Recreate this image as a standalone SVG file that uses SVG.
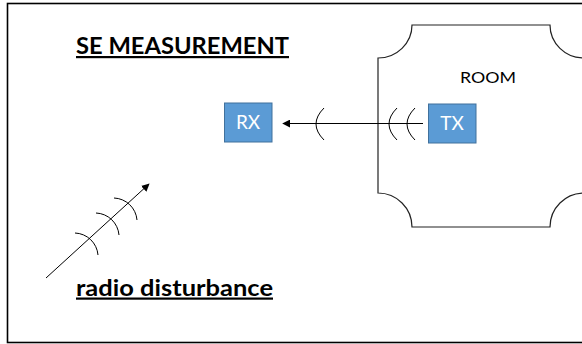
<svg xmlns="http://www.w3.org/2000/svg" width="582" height="344" viewBox="0 0 582 344">
<defs>
<marker id="ah" viewBox="0 0 10 10" refX="9" refY="5" markerWidth="8" markerHeight="8" markerUnits="userSpaceOnUse" orient="auto"><path d="M0 0L10 5L0 10Z" fill="#000"/></marker>
</defs>
<style>
.t{font-family:"Lato","Open Sans",sans-serif;fill:#000}
.h{font-weight:700;font-size:22px;text-decoration:underline}
.b{fill:#5b9bd5;stroke:#41719c;stroke-width:1}
.w{font-family:"Lato","Open Sans",sans-serif;fill:#fff;font-size:19px;text-anchor:middle}
.l{fill:none;stroke:#000;stroke-width:1}
</style>
<rect width="582" height="344" fill="#fff"/>
<rect id="frame" x="7.5" y="3.500" width="580" height="339" fill="none" stroke="#000" stroke-width="1.6"/>
<g id="room">
<path d="M412 25H550A34 33 0 0 0 584 58V193A34 34 0 0 0 550 227H412A34 34 0 0 0 378 193V58A34 33 0 0 0 412 25Z" fill="#fff" stroke="#222" stroke-width="1.2"/>
<text class="t" x="488" y="82.500" font-size="16" text-anchor="middle" textLength="56" lengthAdjust="spacingAndGlyphs">ROOM</text>
</g>
<g id="rx"><rect class="b" x="224.500" y="103" width="47.500" height="39"/><text class="w" x="248" y="129">RX</text></g>
<g id="tx"><rect class="b" x="428.500" y="104" width="47.500" height="39"/><text class="w" x="452" y="130">TX</text></g>
<g id="connectors">
<path class="l" d="M423 123.500H283" marker-end="url(#ah)"/>
<path class="l" d="M46 278L149 184" marker-end="url(#ah)"/>
<path class="l" d="M324 108Q308 124 324 140M397 108Q381 124 397 140M415 108Q399 124 415 140"/>
<path class="l" d="M75 233A24 24 0 0 1 98 255M96 213A24 24 0 0 1 119 235M114 198A24 24 0 0 1 137 220"/>
</g>
<g id="title"><text class="t h" x="76" y="54" textLength="213" lengthAdjust="spacingAndGlyphs">SE MEASUREMENT</text></g>
<g id="caption"><text class="t h" x="76" y="295.500" textLength="197" lengthAdjust="spacingAndGlyphs">radio disturbance</text></g>
</svg>
